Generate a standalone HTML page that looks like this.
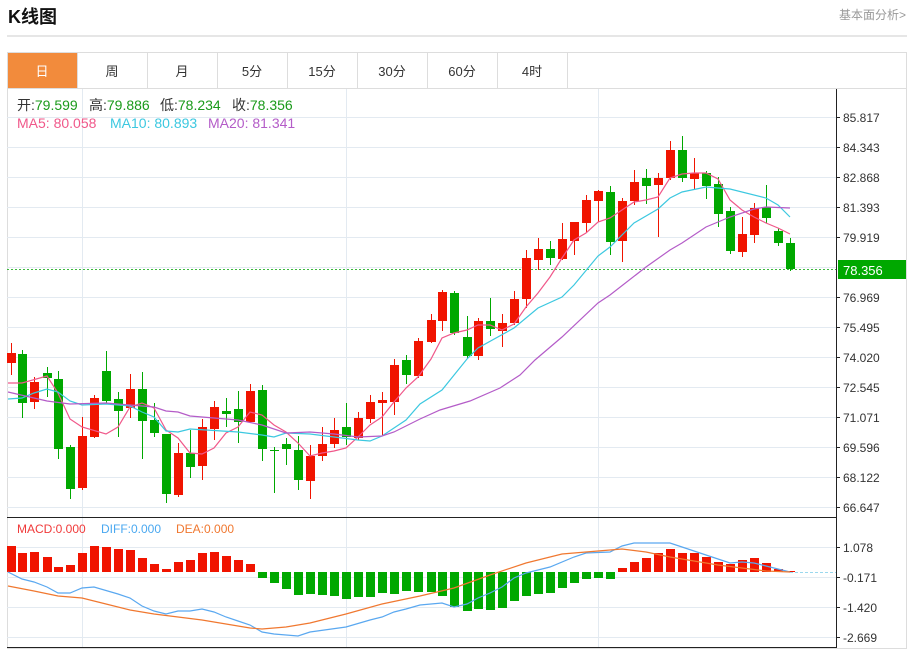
<!DOCTYPE html>
<html><head><meta charset="utf-8"><style>
body{margin:0;width:920px;height:649px;background:#fff;overflow:hidden;font-family:"Liberation Sans","Noto Sans CJK SC",sans-serif}
</style></head><body>
<svg width="920" height="649" xmlns="http://www.w3.org/2000/svg" style="position:absolute;left:0;top:0" font-family="Liberation Sans, Noto Sans CJK SC, sans-serif">
<text x="8" y="23" font-size="18" font-weight="bold" fill="#111">K线图</text>
<text x="906" y="19" font-size="12" fill="#999" text-anchor="end">基本面分析&gt;</text>
<line x1="7" y1="36" x2="907" y2="36" stroke="#ccc"/>
<rect x="7.5" y="52.5" width="899" height="596" fill="none" stroke="#ddd"/>
<line x1="7" y1="88.5" x2="907" y2="88.5" stroke="#ddd"/>
<rect x="8" y="53" width="69" height="35" fill="#f28b3c"/>
<g stroke="#ddd"><line x1="77.5" y1="53" x2="77.5" y2="88"/><line x1="147.5" y1="53" x2="147.5" y2="88"/><line x1="217.5" y1="53" x2="217.5" y2="88"/><line x1="287.5" y1="53" x2="287.5" y2="88"/><line x1="357.5" y1="53" x2="357.5" y2="88"/><line x1="427.5" y1="53" x2="427.5" y2="88"/><line x1="497.5" y1="53" x2="497.5" y2="88"/><line x1="567.5" y1="53" x2="567.5" y2="88"/></g>
<g font-size="13" fill="#333" text-anchor="middle"><text x="42" y="76" fill="#fff">日</text><text x="112" y="76">周</text><text x="182" y="76">月</text><text x="252" y="76">5分</text><text x="322" y="76">15分</text><text x="392" y="76">30分</text><text x="462" y="76">60分</text><text x="532" y="76">4时</text></g>
<g stroke="#e3eaf1" stroke-width="1">
<line x1="82.5" y1="89" x2="82.5" y2="648"/><line x1="346.5" y1="89" x2="346.5" y2="648"/><line x1="598.5" y1="89" x2="598.5" y2="648"/>
<line x1="7" y1="117.5" x2="836" y2="117.5"/><line x1="7" y1="147.5" x2="836" y2="147.5"/><line x1="7" y1="177.5" x2="836" y2="177.5"/><line x1="7" y1="207.5" x2="836" y2="207.5"/><line x1="7" y1="237.5" x2="836" y2="237.5"/><line x1="7" y1="267.5" x2="836" y2="267.5"/><line x1="7" y1="297.5" x2="836" y2="297.5"/><line x1="7" y1="327.5" x2="836" y2="327.5"/><line x1="7" y1="357.5" x2="836" y2="357.5"/><line x1="7" y1="387.5" x2="836" y2="387.5"/><line x1="7" y1="417.5" x2="836" y2="417.5"/><line x1="7" y1="447.5" x2="836" y2="447.5"/><line x1="7" y1="477.5" x2="836" y2="477.5"/><line x1="7" y1="507.5" x2="836" y2="507.5"/>
<line x1="7" y1="547.5" x2="836" y2="547.5"/><line x1="7" y1="577.5" x2="836" y2="577.5"/><line x1="7" y1="607.5" x2="836" y2="607.5"/><line x1="7" y1="637.5" x2="836" y2="637.5"/>
</g>
<line x1="7" y1="517.5" x2="836" y2="517.5" stroke="#222"/>
<line x1="7" y1="647.5" x2="836" y2="647.5" stroke="#222"/>
<line x1="836.5" y1="89" x2="836.5" y2="648" stroke="#222"/>
<g stroke="#222"><line x1="836" y1="117.5" x2="840" y2="117.5"/><line x1="836" y1="147.5" x2="840" y2="147.5"/><line x1="836" y1="177.5" x2="840" y2="177.5"/><line x1="836" y1="207.5" x2="840" y2="207.5"/><line x1="836" y1="237.5" x2="840" y2="237.5"/><line x1="836" y1="297.5" x2="840" y2="297.5"/><line x1="836" y1="327.5" x2="840" y2="327.5"/><line x1="836" y1="357.5" x2="840" y2="357.5"/><line x1="836" y1="387.5" x2="840" y2="387.5"/><line x1="836" y1="417.5" x2="840" y2="417.5"/><line x1="836" y1="447.5" x2="840" y2="447.5"/><line x1="836" y1="477.5" x2="840" y2="477.5"/><line x1="836" y1="507.5" x2="840" y2="507.5"/><line x1="836" y1="547.5" x2="840" y2="547.5"/><line x1="836" y1="577.5" x2="840" y2="577.5"/><line x1="836" y1="607.5" x2="840" y2="607.5"/><line x1="836" y1="637.5" x2="840" y2="637.5"/></g>
<g font-size="12" fill="#333"><text x="843" y="122">85.817</text><text x="843" y="152">84.343</text><text x="843" y="182">82.868</text><text x="843" y="212">81.393</text><text x="843" y="242">79.919</text><text x="843" y="302">76.969</text><text x="843" y="332">75.495</text><text x="843" y="362">74.020</text><text x="843" y="392">72.545</text><text x="843" y="422">71.071</text><text x="843" y="452">69.596</text><text x="843" y="482">68.122</text><text x="843" y="512">66.647</text>
<text x="843" y="552">1.078</text><text x="843" y="582">-0.171</text><text x="843" y="612">-1.420</text><text x="843" y="642">-2.669</text></g>
<line x1="7" y1="269.5" x2="836" y2="269.5" stroke="#3cb83c" stroke-dasharray="2,2"/>
<rect x="838" y="260" width="68" height="19" fill="#00a800"/>
<text x="843" y="275" font-size="13" fill="#fff">78.356</text>
<g font-size="14" fill="#333"><text x="17" y="110">开:<tspan fill="#1a9a1a">79.599</tspan></text><text x="89" y="110">高:<tspan fill="#1a9a1a">79.886</tspan></text><text x="160" y="110">低:<tspan fill="#1a9a1a">78.234</tspan></text><text x="232" y="110">收:<tspan fill="#1a9a1a">78.356</tspan></text>
<text x="17" y="128" fill="#f0588a">MA5: 80.058</text><text x="110" y="128" fill="#3cc8e0">MA10: 80.893</text><text x="208" y="128" fill="#b45cc8">MA20: 81.341</text></g>
<g font-size="12"><text x="17" y="533" fill="#f03a3a">MACD:0.000</text><text x="101" y="533" fill="#4aa8f0">DIFF:0.000</text><text x="176" y="533" fill="#f07830">DEA:0.000</text></g>
<g id="c"></g>
<polyline fill="none" stroke="#f0588a" stroke-width="1.2" points="8,383 22,383 47,376 58,393 70,419 82,427 106,434 118,427 130,407 142,403 154,408 166,430 178,438 190,453 202,454 214,448 226,433 238,427 250,412 262,415 274,425 286,432 298,443 310,456 322,453 334,451 346,448 358,437 370,425 382,417 394,402 406,388 418,377 431,359 442,338 454,333 467,330 478,325 490,325 502,330 514,324 526,307 538,293 550,277 562,258 574,240 586,233 598,222 610,218 622,210 634,202 646,200 658,197 670,178 682,174 694,173 706,173 718,179 730,200 742,210 754,217 766,223 778,228 790,234"/>
<polyline fill="none" stroke="#3cc8e0" stroke-width="1.2" points="8,399 22,398 34,393 47,389 58,392 70,401 82,405 106,404 130,406 142,412 154,417 166,431 178,432 190,429 238,432 262,435 274,437 286,433 310,434 334,437 358,440 370,441 382,436 406,420 420,404 442,390 467,359 478,348 514,328 538,308 562,297 574,285 598,256 610,247 634,223 658,209 670,198 682,192 706,187 730,189 766,198 778,205 790,217"/>
<polyline fill="none" stroke="#b45cc8" stroke-width="1.2" points="8,392 47,401 70,404 106,403 154,407 166,411 178,412 190,416 202,417 238,420 262,425 286,433 310,432 334,434 358,437 382,436 394,432 420,419 440,410 470,401 500,388 520,375 535,360 562,337 598,303 610,295 646,267 670,250 682,243 706,227 730,217 754,209 766,207 790,208"/>
<g id="m"></g>
<line x1="790" y1="572.5" x2="836" y2="572.5" stroke="#9ad8ee" stroke-dasharray="3,2"/>
<polyline fill="none" stroke="#5aa8f0" stroke-width="1.2" points="8,572 22,579 34,582 47,587 58,593 70,593 82,588 94,587 118,594 130,598 142,606 154,611 166,614 178,611 190,611 202,609 214,612 226,617 238,621 250,625 262,632 274,634 298,636 310,632 346,627 370,620 382,617 394,612 406,609 420,605 442,603 454,607 467,604 478,598 490,593 502,587 514,578 526,573 550,567 574,557 586,553 610,552 622,546 634,543 670,543 682,547 706,555 730,563 742,562 754,563 766,566 790,572"/>
<polyline fill="none" stroke="#f07830" stroke-width="1.2" points="8,586 34,591 58,596 82,598 106,604 130,610 154,614 178,617 202,620 226,624 250,628 262,629 286,627 310,623 346,614 382,604 420,596 454,588 490,575 526,563 562,554 598,551 622,549 646,552 670,557 694,561 718,565 742,568 766,571 790,572"/>
</svg>
<script>
var C=[[11,353,363,343,375,1],[22,354,403,350,418,0],[34,382,402,377,409,1],[47,373,378,367,397,0],[58,379,449,371,459,0],[70,447,489,445,499,0],[82,436,488,417,490,1],[94,398,437,395,438,1],[106,371,401,351,404,0],[118,399,411,392,437,0],[130,389,408,374,418,1],[142,389,421,372,459,0],[154,420,433,403,437,0],[166,434,494,434,503,0],[178,453,495,443,497,1],[190,453,467,430,478,0],[202,427,466,419,480,1],[214,407,429,401,440,1],[226,411,414,398,427,0],[238,409,422,391,443,0],[250,391,422,384,423,1],[262,390,449,385,461,0],[274,450,451,447,493,0],[286,444,449,438,465,0],[298,450,480,436,490,0],[310,456,481,445,499,1],[322,444,456,427,461,1],[334,430,444,418,448,1],[346,427,437,403,445,0],[358,418,438,412,440,1],[370,402,419,395,423,1],[382,400,403,392,435,1],[394,365,402,359,415,1],[406,360,375,355,384,0],[418,341,376,338,378,1],[431,320,342,314,343,1],[442,292,321,290,331,1],[454,293,333,291,335,0],[467,337,356,316,358,0],[478,321,356,318,360,1],[490,321,329,298,336,0],[502,323,331,314,347,1],[514,299,323,291,325,1],[526,258,299,250,308,1],[538,249,260,238,270,1],[550,249,258,241,265,0],[562,239,259,223,260,1],[574,222,241,222,255,1],[586,200,223,195,233,1],[598,191,201,190,222,1],[610,192,242,186,255,0],[622,201,241,198,262,1],[634,182,201,170,205,1],[646,178,186,169,204,0],[658,178,185,173,237,1],[670,150,178,141,180,1],[682,150,178,136,182,0],[694,173,179,158,190,1],[706,173,186,171,199,0],[718,184,214,177,227,0],[730,211,251,207,254,0],[742,234,252,217,257,1],[754,208,235,203,243,1],[766,207,218,185,223,0],[778,231,243,228,246,0],[790,243,269,238,271,0]];
var M=[546,553,552,557,567,565,553,546,547,549,550,558,564,569,562,560,553,552,556,560,564,578,583,589,595,594,595,596,599,597,597,593,594,591,592,592,596,607,611,609,610,608,601,596,594,593,588,583,579,578,579,568,562,558,553,549,553,553,557,562,564,560,558,563,569,571];
var s='',m='';
C.forEach(function(c,i){var col=c[5]?'#f01400':'#00a800';
s+='<line x1="'+(c[0]+.5)+'" y1="'+c[3]+'" x2="'+(c[0]+.5)+'" y2="'+c[4]+'" stroke="'+col+'"/><rect x="'+(c[0]-4)+'" y="'+c[1]+'" width="9" height="'+Math.max(1,c[2]-c[1])+'" fill="'+col+'"/>';
var v=M[i],z=572;m+='<rect x="'+(c[0]-4)+'" y="'+Math.min(v,z)+'" width="9" height="'+Math.max(1,Math.abs(v-z))+'" fill="'+(v<z?'#f01400':'#00a800')+'"/>';});
document.getElementById('c').innerHTML=s;document.getElementById('m').innerHTML=m;
</script>
</body></html>
